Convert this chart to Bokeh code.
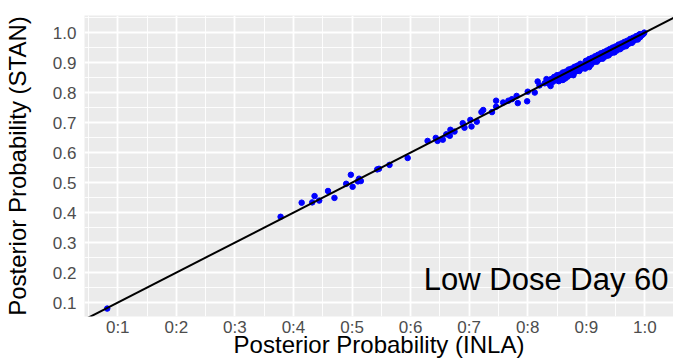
from bokeh.plotting import figure
from bokeh.models import FixedTicker, Range1d, Label
from bokeh.embed import file_html
from bokeh.resources import INLINE

# ---- data ----
inla = [0.082,
        0.378, 0.414, 0.436, 0.432, 0.444, 0.459, 0.470, 0.490, 0.498, 0.501,
        0.510, 0.515, 0.512, 0.543, 0.546, 0.564, 0.595,
        0.629, 0.643, 0.646, 0.655, 0.661, 0.668, 0.675, 0.667, 0.689, 0.692,
        0.702, 0.704, 0.713, 0.721, 0.724, 0.739, 0.746, 0.746, 0.758, 0.767,
        0.773, 0.783, 0.781, 0.799, 0.800, 0.812, 0.817, 0.820, 0.829, 0.837,
        0.840, 0.843, 0.846, 0.848, 0.851, 0.853, 0.855, 0.858, 0.860, 0.862,
        0.864, 0.866, 0.868, 0.870, 0.872, 0.874, 0.876, 0.878, 0.880, 0.882,
        0.884, 0.886, 0.888, 0.890, 0.892, 0.894, 0.896, 0.898, 0.899, 0.900,
        0.902, 0.904, 0.906, 0.908, 0.910, 0.912, 0.914, 0.916, 0.918, 0.920,
        0.922, 0.924, 0.926, 0.928, 0.930, 0.932, 0.934, 0.936, 0.938, 0.940,
        0.942, 0.944, 0.946, 0.948, 0.950, 0.952, 0.954, 0.956, 0.958, 0.960,
        0.962, 0.964, 0.966, 0.968, 0.970, 0.972, 0.974, 0.976, 0.978, 0.980,
        0.982, 0.984, 0.986, 0.988, 0.990, 0.992, 0.994, 0.996, 0.998, 0.999,
        0.839, 0.878, 0.905, 0.832, 0.897,
        0.905, 0.915, 0.925, 0.935, 0.945, 0.955, 0.965, 0.975, 0.985, 0.992,
        0.885, 0.875, 0.865, 0.855, 0.845,
        0.850, 0.860, 0.870, 0.880, 0.890, 0.900, 0.910, 0.920, 0.930, 0.940,
        0.950, 0.960, 0.970, 0.980, 0.990,
        0.858, 0.868, 0.888, 0.908, 0.918, 0.928, 0.938, 0.948, 0.958, 0.968,
        0.978, 0.988]
stan = [0.080,
        0.386, 0.433, 0.455, 0.434, 0.440, 0.472, 0.449, 0.496, 0.526, 0.486,
        0.504, 0.505, 0.513, 0.544, 0.546, 0.559, 0.582,
        0.639, 0.649, 0.639, 0.643, 0.661, 0.676, 0.670, 0.656, 0.698, 0.683,
        0.709, 0.687, 0.703, 0.735, 0.742, 0.735, 0.773, 0.753, 0.767, 0.773,
        0.778, 0.765, 0.789, 0.771, 0.803, 0.800, 0.837, 0.824, 0.831, 0.829,
        0.845, 0.836, 0.850, 0.841, 0.846, 0.838, 0.853, 0.849, 0.842, 0.858,
        0.847, 0.861, 0.855, 0.866, 0.859, 0.870, 0.864, 0.873, 0.868, 0.877,
        0.872, 0.882, 0.876, 0.886, 0.880, 0.889, 0.885, 0.880, 0.905, 0.893,
        0.898, 0.890, 0.902, 0.897, 0.907, 0.901, 0.910, 0.905, 0.914, 0.908,
        0.918, 0.913, 0.921, 0.917, 0.925, 0.920, 0.930, 0.924, 0.933, 0.929,
        0.937, 0.933, 0.941, 0.936, 0.946, 0.940, 0.949, 0.945, 0.953, 0.949,
        0.957, 0.953, 0.962, 0.958, 0.966, 0.962, 0.970, 0.967, 0.974, 0.971,
        0.978, 0.976, 0.983, 0.981, 0.987, 0.985, 0.991, 0.993, 0.997, 1.000,
        0.822, 0.858, 0.885, 0.845, 0.888,
        0.912, 0.921, 0.931, 0.940, 0.950, 0.960, 0.969, 0.979, 0.988, 0.995,
        0.890, 0.880, 0.870, 0.860, 0.852,
        0.858, 0.867, 0.877, 0.886, 0.896, 0.906, 0.916, 0.926, 0.935, 0.945,
        0.954, 0.964, 0.973, 0.983, 0.993,
        0.843, 0.853, 0.872, 0.893, 0.903, 0.913, 0.924, 0.934, 0.945, 0.955,
        0.966, 0.977]

major_ticks = [0.1, 0.2, 0.3, 0.4, 0.5, 0.6, 0.7, 0.8, 0.9, 1.0]
minor_ticks = [0.05, 0.15, 0.25, 0.35, 0.45, 0.55, 0.65, 0.75, 0.85, 0.95, 1.05]
x_tick_labels = ["0:1", "0:2", "0:3", "0:4", "0:5", "0:6", "0:7", "0:8", "0:9", "1:0"]
y_tick_labels = ["0.1", "0.2", "0.3", "0.4", "0.5", "0.6", "0.7", "0.8", "0.9", "1.0"]
ref_line = [0.0, 1.1]

x_title = "Posterior Probability (INLA)"
y_title = "Posterior Probability (STAN)"
annotation = "Low Dose Day 60"

FONT = "Liberation Sans"

p = figure(width=673, height=360, output_backend="svg", toolbar_location=None,
           x_range=Range1d(0.0432, 1.0489), y_range=Range1d(0.0536, 1.0570),
           min_border_left=81, min_border_right=0, min_border_top=15,
           min_border_bottom=42)
p.background_fill_color = "#EBEBEB"
p.border_fill_color = "white"
p.outline_line_color = None

for ax, labels in ((p.xaxis, x_tick_labels), (p.yaxis, y_tick_labels)):
    ax.ticker = FixedTicker(ticks=major_ticks, minor_ticks=minor_ticks)
    ax.major_label_overrides = {t: l for t, l in zip(major_ticks, labels)}
    ax.axis_line_color = None
    ax.major_tick_line_color = None
    ax.minor_tick_line_color = None
    ax.major_label_text_font = FONT
    ax.major_label_text_font_size = "17px"
    ax.major_label_text_color = "#4D4D4D"
    ax.axis_label_text_font = FONT
    ax.axis_label_text_font_size = "24px"
    ax.axis_label_text_color = "black"
    ax.axis_label_text_font_style = "normal"

p.xaxis.axis_label = x_title
p.yaxis.axis_label = y_title
p.xaxis.major_label_standoff = -5
p.yaxis.major_label_standoff = 2
p.xaxis.axis_label_standoff = -9
p.yaxis.axis_label_standoff = 19

for g in (p.xgrid, p.ygrid):
    g.grid_line_color = "white"
    g.grid_line_width = 1.8
    g.minor_grid_line_color = "white"
    g.minor_grid_line_width = 0.9

p.scatter(inla, stan, size=5.5, color="#0000FF", line_color="#0000FF")
p.line(ref_line, ref_line, line_color="black", line_width=2)

p.add_layout(Label(x=1.0404, y=0.176, text=annotation, text_align="right",
                   text_baseline="alphabetic", text_font=FONT,
                   text_font_size="31px", text_color="black"))

open("out.html", "w").write(file_html(p, INLINE))
